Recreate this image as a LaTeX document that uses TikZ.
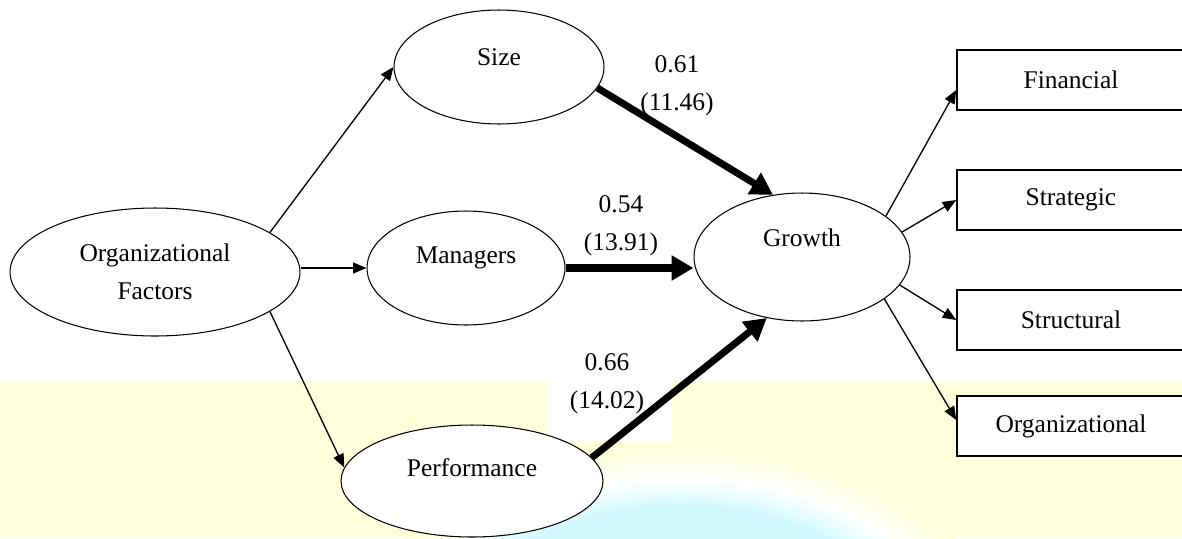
\documentclass[tikz,border=0pt]{standalone}
\usepackage{fontspec}
\setmainfont{Liberation Serif}
\usetikzlibrary{arrows.meta,shapes.geometric,calc}
\definecolor{ybg}{RGB}{255,255,220}
\definecolor{glowc}{RGB}{208,250,255}
\pgfdeclareradialshading{glow}{\pgfpointorigin}{color(0bp)=(glowc); color(17.5bp)=(glowc); color(21bp)=(white); color(24.5bp)=(ybg); color(50bp)=(ybg)}
\begin{document}
\begin{tikzpicture}[x=0.02cm, y=-0.02cm,
  every node/.style={font=\fontsize{14.5}{21.6}\selectfont},
  oval/.style={ellipse, draw, line width=0.6pt, fill=white, inner sep=0pt},
  boxn/.style={rectangle, draw, line width=0.9pt, fill=white, minimum width=4.56cm, minimum height=1.2cm, inner sep=0pt},
  lightarrow/.style={-{Triangle[length=0.27cm,width=0.22cm]}, line width=0.75pt},
  heavyarrow/.style={-{Triangle[length=0.44cm,width=0.48cm]}, line width=4pt},
  lbl/.style={align=center, inner sep=0pt}
]
% background
\useasboundingbox (0,0) rectangle (1182,538);
\fill[white] (0,0) rectangle (1182,538);
\fill[ybg] (0,381) rectangle (1182,538);
\begin{scope}
  \clip (0,381) rectangle (1182,538);
  \shade[shading=glow] (680,650) ellipse [x radius=6.6cm, y radius=4.08cm];
\end{scope}
\fill[white] (548,381) rectangle (671,442);

% nodes
\node[oval, minimum width=5.8cm, minimum height=2.56cm, align=center] (of) at (155,272) {Organizational\\Factors};
\node[oval, minimum width=4.2cm, minimum height=2.28cm] (size) at (499,67) {\raisebox{0.4cm}{Size}};
\node[oval, minimum width=3.96cm, minimum height=2.28cm] (mgr) at (466,268) {\raisebox{0.52cm}{Managers}};
\node[oval, minimum width=5.24cm, minimum height=2.24cm] (perf) at (472,481) {\raisebox{0.52cm}{Performance}};
\node[oval, minimum width=4.32cm, minimum height=2.56cm] (grow) at (802,257) {\raisebox{0.76cm}{Growth}};

\node[boxn] (fin) at (1071,80) {Financial};
\node[boxn] (strat) at (1071,200) {Strategic};
\node[boxn] (struct) at (1071,320) {Structural};
\node[boxn] (orgz) at (1071,426) {Organizational};

\node[lbl] (l1) at (677,86) {0.61\\(11.46)};
\node[lbl] (l2) at (621,226) {0.54\\(13.91)};
\node[lbl] (l3) at (607,384) {0.66\\(14.02)};

% connectors
\draw[lightarrow] (of.19) -- (size.west);
\draw[lightarrow] (of.east |- mgr.west) -- (mgr.west);
\draw[lightarrow] (of.-19) -- (perf.174);
\draw[heavyarrow] (size.-12) -- (grow.115);
\draw[heavyarrow] (mgr.east) -- (mgr.east -| grow.west);
\draw[heavyarrow] (perf.11) -- (grow.-120);
\draw[lightarrow] (grow.26) -- ($(fin.west)+(0,10)$);
\draw[lightarrow] (grow.14) -- (strat.west);
\draw[lightarrow] (grow.-16) -- (struct.west);
\draw[lightarrow] (grow.-27) -- ($(orgz.west)+(0,-6)$);
\end{tikzpicture}
\end{document}
